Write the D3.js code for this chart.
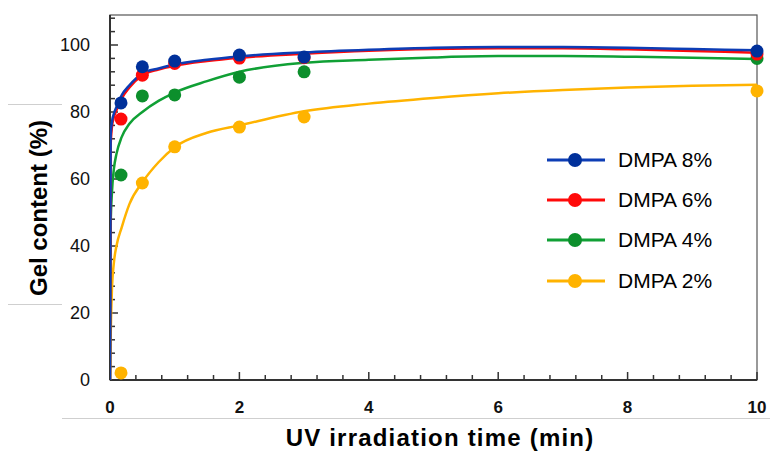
<!DOCTYPE html>
<html>
<head>
<meta charset="utf-8">
<script src="https://cdn.jsdelivr.net/npm/d3@7"></script>
<style>
  body { margin: 0; background: #fff; }
  text { font-family: "Liberation Sans", Arial, sans-serif; }
</style>
</head>
<body>
<script>
// measured points (min, %)
var times = [0.17, 0.5, 1, 2, 3, 10];
var dmpa8 = [82.7, 93.5, 95.2, 97, 96.4, 98.2];
var dmpa6 = [77.9, 91, 94.5, 96.1, 96.2, 97.3];
var dmpa4 = [61.2, 84.8, 85.1, 90.4, 92, 96];
var dmpa2 = [2.1, 58.8, 69.6, 75.5, 78.5, 86.3];

// fitted curves
var fitT  = [0, 0.01, 0.03, 0.06, 0.1, 0.18, 0.3, 0.5, 0.75, 1, 1.5, 2, 3, 4, 5, 6, 7, 8, 9, 10];
var fit8  = [0, 73, 77, 79.5, 81.5, 85, 88, 91.5, 93, 94.2, 95.6, 96.6, 97.8, 98.6, 99.2, 99.4, 99.4, 99.2, 98.8, 98.4];
var fit6  = [0, 70, 75.5, 78.5, 80.5, 84, 87.3, 91, 92.7, 93.8, 95.2, 96.2, 97.4, 98.3, 98.8, 99, 99, 98.7, 98.2, 97.7];
var fit4  = [0, 46, 56, 63, 67.5, 72.5, 76.5, 80, 83.3, 85.8, 89.2, 92, 94.7, 95.6, 96.3, 96.7, 96.7, 96.5, 96.2, 95.8];
var fit2  = [0, 13, 27, 35, 40, 45.5, 52.5, 59, 65, 69.5, 73.8, 76, 80.2, 82.5, 84.2, 85.6, 86.6, 87.3, 87.8, 88.1];

var labels = ["DMPA 8%", "DMPA 6%", "DMPA 4%", "DMPA 2%"];
var lineColors = ["#0d3db5", "#ff0a0a", "#10a035", "#ffb300"];
var dotColors = ["#00309a", "#ff0a0a", "#0c8f2c", "#ffb300"];

var xTicks = [0, 2, 4, 6, 8, 10];
var yTicks = [0, 20, 40, 60, 80, 100];

var W = 770, H = 454;
var svg = d3.select("body").append("svg").attr("width", W).attr("height", H);

var pl = 110, pr = 757, pt = 15, pb = 380;
var x = d3.scaleLinear().domain([0, 10]).range([pl, pr]);
var y = d3.scaleLinear().domain([0, 100]).range([pb, 45]);

// stray grey lines from the cropped original
svg.append("line").attr("x1", 8).attr("x2", 62).attr("y1", 104.5).attr("y2", 104.5).attr("stroke", "#cfcfcf");
svg.append("line").attr("x1", 8).attr("x2", 62).attr("y1", 304.5).attr("y2", 304.5).attr("stroke", "#cfcfcf");
svg.append("line").attr("x1", 62).attr("x2", 770).attr("y1", 418.5).attr("y2", 418.5).attr("stroke", "#cfcfcf");

// frame
svg.append("rect").attr("x", pl).attr("y", pt).attr("width", pr - pl).attr("height", pb - pt)
  .attr("fill", "none").attr("stroke", "#555").attr("stroke-width", 1.2);
svg.append("line").attr("x1", pl).attr("x2", pr).attr("y1", pb).attr("y2", pb).attr("stroke", "#333").attr("stroke-width", 2);
svg.append("line").attr("x1", pl).attr("x2", pl).attr("y1", pt).attr("y2", pb).attr("stroke", "#333").attr("stroke-width", 2);

// ticks (inside)
var minorX = d3.range(0, 10.001, 0.4);
svg.selectAll(".mx").data(minorX).enter().append("line")
  .attr("x1", d => x(d)).attr("x2", d => x(d))
  .attr("y1", pb).attr("y2", d => (Math.abs(d / 2 - Math.round(d / 2)) < 1e-6 ? pb - 8 : pb - 5))
  .attr("stroke", "#333").attr("stroke-width", 1.5);
var minorY = d3.range(0, 108.001, 4);
svg.selectAll(".my").data(minorY).enter().append("line")
  .attr("y1", d => y(d)).attr("y2", d => y(d))
  .attr("x1", pl).attr("x2", d => (d % 20 === 0 ? pl + 8 : pl + 5))
  .attr("stroke", "#333").attr("stroke-width", 1.5);

svg.selectAll(".xt").data(xTicks).enter().append("text")
  .attr("x", d => x(d)).attr("y", 413).attr("text-anchor", "middle")
  .attr("font-size", 17).attr("font-weight", "bold").attr("fill", "#111").text(d => d);
svg.selectAll(".yt").data(yTicks).enter().append("text")
  .attr("x", 90).attr("y", d => y(d) + 6).attr("text-anchor", "end")
  .attr("font-size", 18).attr("fill", "#111").text(d => d);

svg.append("text").attr("x", 440).attr("y", 446).attr("text-anchor", "middle")
  .attr("font-size", 24).attr("font-weight", "bold").attr("letter-spacing", 1.2).attr("fill", "#000")
  .text("UV irradiation time (min)");
svg.append("text").attr("transform", "translate(47,208) rotate(-90)").attr("text-anchor", "middle")
  .attr("font-size", 24).attr("font-weight", "bold").attr("fill", "#000")
  .text("Gel content (%)");

var fits = [fit8, fit6, fit4, fit2];
var pts = [dmpa8, dmpa6, dmpa4, dmpa2];

svg.append("clipPath").attr("id", "clip").append("rect")
  .attr("x", pl).attr("y", pt).attr("width", pr - pl).attr("height", pb - pt);

var line = d3.line().x(d => x(d[0])).y(d => y(d[1])).curve(d3.curveMonotoneX);

var order = [3, 2, 1, 0];
order.forEach(function(i) {
  svg.append("path").datum(fitT.map((t, j) => [t, fits[i][j]]))
    .attr("d", line).attr("fill", "none").attr("stroke", lineColors[i])
    .attr("stroke-width", 2.5).attr("clip-path", "url(#clip)");
});
order.forEach(function(i) {
  svg.selectAll(".p" + i).data(times.map((t, j) => [t, pts[i][j]])).enter().append("circle")
    .attr("cx", d => x(d[0])).attr("cy", d => y(d[1])).attr("r", 6.5).attr("fill", dotColors[i]);
});

// legend
var legY = [160, 200, 240, 281];
labels.forEach(function(l, i) {
  var g = svg.append("g").attr("transform", "translate(0," + legY[i] + ")");
  g.append("line").attr("x1", 547).attr("x2", 605).attr("stroke", lineColors[i]).attr("stroke-width", 3);
  g.append("circle").attr("cx", 575).attr("r", 7).attr("fill", dotColors[i]);
  g.append("text").attr("x", 618).attr("y", 7).attr("font-size", 21).attr("fill", "#000").text(l);
});
</script>
</body>
</html>
